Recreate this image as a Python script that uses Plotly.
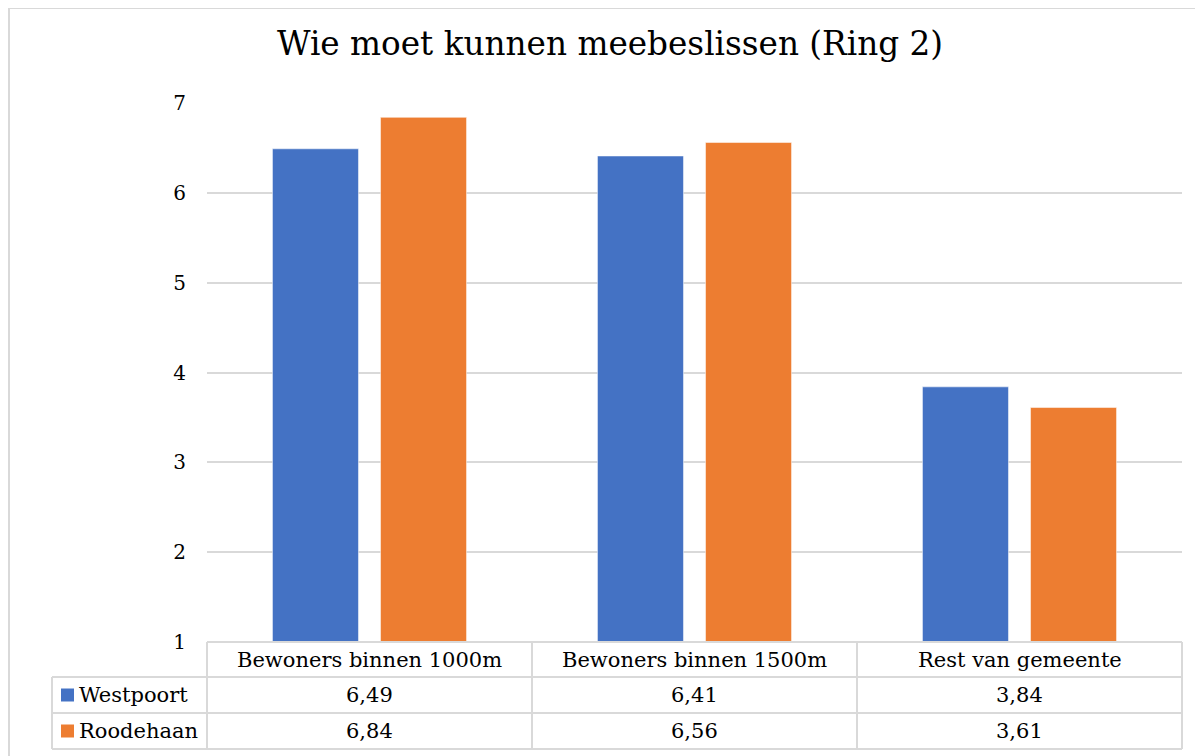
import plotly.graph_objects as go

categories = ["Bewoners binnen 1000m", "Bewoners binnen 1500m", "Rest van gemeente"]
series_names = ["Westpoort", "Roodehaan"]
westpoort = [6.49, 6.41, 3.84]
roodehaan = [6.84, 6.56, 3.61]
y_ticks = [1, 2, 3, 4, 5, 6, 7]
title_text = "Wie moet kunnen meebeslissen (Ring 2)"

colors = ["#4472C4", "#ED7D31"]
FONT = "DejaVu Serif"
# the page adds an 8px body margin, so the figure is drawn 8px smaller and shifted
W, H = 1195, 748
L, R, T, B = 199, 1174, 95, 634
PW, PH = R - L, B - T
GRID = "#D9D9D9"


def px(x):
    return (x - L) / PW


def py(y):
    return (B - y) / PH


fig = go.Figure()
for name, vals, c in zip(series_names, [westpoort, roodehaan], colors):
    fig.add_trace(go.Bar(x=categories, y=vals, name=name,
                         marker=dict(color=c, line=dict(color="white", width=0.5))))

fig.update_layout(
    width=W, height=H,
    margin=dict(l=L, r=W - R, t=T, b=H - B),
    paper_bgcolor="white", plot_bgcolor="white",
    showlegend=False,
    barmode="group", bargap=0.335, bargroupgap=0.204,
    title=dict(text=title_text, x=602 / W, xanchor="center", y=1 - 36 / H, yanchor="middle",
               font=dict(family=FONT, size=32.7, color="black")),
    font=dict(family=FONT, color="black"),
)
fig.update_xaxes(showticklabels=False, showgrid=False, zeroline=False, showline=False)
fig.update_yaxes(range=[1, 7], tickvals=y_ticks, showgrid=True, gridcolor=GRID, gridwidth=1.5,
                 zeroline=False, showline=False, ticks="", ticklabelstandoff=20,
                 tickfont=dict(family=FONT, size=20, color="black"))

shapes = []
line = dict(color=GRID, width=2)
# outer chart border
shapes.append(dict(type="rect", xref="paper", yref="paper", x0=px(1), x1=px(1240), y0=py(0), y1=py(800),
                   line=dict(color=GRID, width=2), layer="below"))
rows = [634, 669, 705, 741]
cols = [L, 524, 849, R]
shapes.append(dict(type="line", xref="paper", yref="paper", x0=px(L), x1=px(R),
                   y0=py(rows[0]), y1=py(rows[0]), line=line))
for r in rows[1:]:
    shapes.append(dict(type="line", xref="paper", yref="paper", x0=px(44), x1=px(R), y0=py(r), y1=py(r), line=line))
for c in cols:
    shapes.append(dict(type="line", xref="paper", yref="paper", x0=px(c), x1=px(c),
                       y0=py(rows[0]), y1=py(rows[-1]), line=line))
shapes.append(dict(type="line", xref="paper", yref="paper", x0=px(44), x1=px(44),
                   y0=py(rows[1]), y1=py(rows[-1]), line=line))

annotations = []
tf = dict(family=FONT, size=21, color="black")
for i, cat in enumerate(categories):
    cx = (cols[i] + cols[i + 1]) / 2
    annotations.append(dict(text=cat, xref="paper", yref="paper", x=px(cx), y=py((rows[0] + rows[1]) / 2),
                            showarrow=False, font=tf, xanchor="center", yanchor="middle"))
for j, (name, vals, c) in enumerate(zip(series_names, [westpoort, roodehaan], colors)):
    ymid = (rows[j + 1] + rows[j + 2]) / 2
    shapes.append(dict(type="rect", xref="paper", yref="paper", x0=px(53), x1=px(66),
                       y0=py(ymid - 6.5), y1=py(ymid + 6.5), fillcolor=c, line=dict(width=0)))
    annotations.append(dict(text=name, xref="paper", yref="paper", x=px(69), y=py(ymid), showarrow=False,
                            font=tf, xanchor="left", yanchor="middle"))
    for i, v in enumerate(vals):
        cx = (cols[i] + cols[i + 1]) / 2
        annotations.append(dict(text=f"{v:.2f}".replace(".", ","), xref="paper", yref="paper", x=px(cx),
                                y=py(ymid), showarrow=False, font=tf, xanchor="center", yanchor="middle"))

fig.update_layout(shapes=shapes, annotations=annotations)
fig.write_html("out.html")
